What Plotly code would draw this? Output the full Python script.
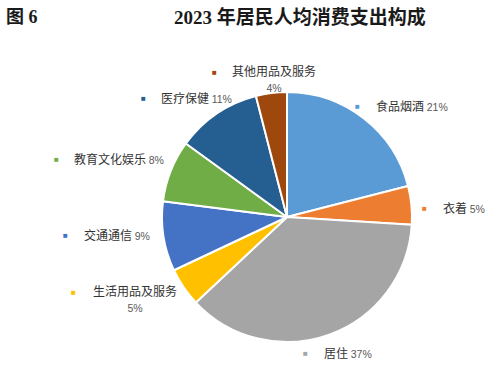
import plotly.graph_objects as go

categories = ["食品烟酒", "衣着", "居住", "生活用品及服务", "交通通信", "教育文化娱乐", "医疗保健", "其他用品及服务"]
shares = [21, 5, 37, 5, 9, 8, 11, 4]
colors = ["#5B9BD5", "#ED7D31", "#A5A5A5", "#FFC000", "#4472C4", "#70AD47", "#255E91", "#9E480E"]

W, H = 492, 369
CX, CY, R = 287, 217, 125

# label layout: (marker x, text x, y, two_line)
label_pos = {
    "食品烟酒": (357, 374, 105, False),
    "衣着": (424, 441, 208, False),
    "居住": (305, 322, 352, False),
    "生活用品及服务": (73, 91, 291, True),
    "交通通信": (65, 82, 234, False),
    "教育文化娱乐": (56, 72, 158, False),
    "医疗保健": (143, 159, 97, False),
    "其他用品及服务": (214, 230, 71, True),
}

fig = go.Figure(go.Pie(
    labels=categories, values=shares, sort=False, direction="clockwise", rotation=0,
    marker=dict(colors=colors, line=dict(color="white", width=2)),
    textinfo="none", hoverinfo="label+percent", showlegend=False,
    domain=dict(x=[(CX - R) / W, (CX + R) / W], y=[(H - CY - R) / H, (H - CY + R) / H]),
))

cjk = "Noto Sans CJK SC, sans-serif"
anns = []
for name, val, col in zip(categories, shares, colors):
    mx, tx, y, two = label_pos[name]
    anns.append(dict(x=mx / W, y=1 - y / H, xref="paper", yref="paper", text="■", showarrow=False,
                     xanchor="center", yanchor="middle", font=dict(size=8, color=col)))
    pct = f"{val}%"
    span = f"<span style='font-size:10.5px;font-family:Liberation Sans;fill:#595959'>{pct}</span>"
    if two:
        anns.append(dict(x=tx / W, y=1 - (y + 7) / H, xref="paper", yref="paper", showarrow=False,
                         text=f"{name}<br>{span}",
                         align="center", xanchor="left", yanchor="middle",
                         font=dict(size=12, color="#333333", family=cjk)))
    else:
        anns.append(dict(x=tx / W, y=1 - y / H, xref="paper", yref="paper", showarrow=False,
                         text=f"{name} {span}",
                         xanchor="left", yanchor="middle",
                         font=dict(size=12, color="#333333", family=cjk)))

title_font = "Liberation Serif, Noto Sans CJK SC, serif"
anns.append(dict(x=300 / W, y=1 - 17 / H, xref="paper", yref="paper", showarrow=False,
                 text="<b>2023 年居民人均消费支出构成</b>", xanchor="center", yanchor="middle",
                 font=dict(size=19, color="#1a1a1a", family=title_font)))
anns.append(dict(x=4 / W, y=1 - 17 / H, xref="paper", yref="paper", showarrow=False,
                 text="<b>图 6</b>", xanchor="left", yanchor="middle",
                 font=dict(size=18, color="#1a1a1a", family=title_font)))

fig.update_layout(width=W, height=H, margin=dict(l=0, r=0, t=0, b=0),
                  paper_bgcolor="white", plot_bgcolor="white", annotations=anns)
fig.write_html("out.html", config={"displayModeBar": False},
               post_script="document.body.style.margin='0';")
